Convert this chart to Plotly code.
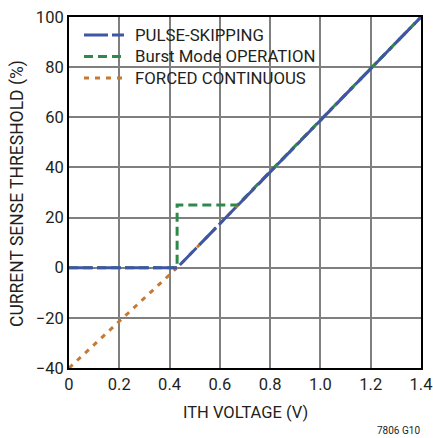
import plotly.graph_objects as go

# Data
pulse_x = [0, 0.43, 1.4]
pulse_y = [0, 0, 100]
burst_x = [0, 0.43, 0.43, 0.67, 1.4]
burst_y = [0, 0, 25, 25, 100]
forced_x = [0, 0.43, 1.4]
forced_y = [-40, 0, 100]
x_ticks = [0, 0.2, 0.4, 0.6, 0.8, 1.0, 1.2, 1.4]
x_tick_labels = ["0", "0.2", "0.4", "0.6", "0.8", "1.0", "1.2", "1.4"]
y_ticks = [-40, -20, 0, 20, 40, 60, 80, 100]
y_tick_labels = ["\u221240", "\u221220", "0", "20", "40", "60", "80", "100"]
series_names = ["PULSE-SKIPPING", "Burst Mode OPERATION", "FORCED CONTINUOUS"]

FONT = "Roboto, Liberation Sans, sans-serif"
TXT = "#231f20"
BLUE = "#3F56A6"
GREEN = "#2E8A4B"
ORANGE = "#C47A35"
DASH_BLUE = "24px,4px"
DASH_GREEN = "9px,5px"
DASH_ORANGE = "5px,6px"

W, H = 433, 438
ML, MR, MT, MB = 69, 12, 17, 70
PW, PH = W - ML - MR, H - MT - MB

def px_x(p):
    return (p - ML) / PW

def px_y(p):
    return (H - MB - p) / PH

fig = go.Figure()
fig.add_trace(go.Scatter(x=forced_x, y=forced_y, mode="lines", name=series_names[2],
                         line=dict(color=ORANGE, width=3, dash=DASH_ORANGE), showlegend=False))
fig.add_trace(go.Scatter(x=burst_x, y=burst_y, mode="lines", name=series_names[1],
                         line=dict(color=GREEN, width=3, dash=DASH_GREEN), showlegend=False))
fig.add_trace(go.Scatter(x=pulse_x, y=pulse_y, mode="lines", name=series_names[0],
                         line=dict(color=BLUE, width=3, dash=DASH_BLUE), showlegend=False))

# white box behind legend (covers gridlines)
fig.add_shape(type="rect", xref="paper", yref="paper", x0=0, x1=px_x(318), y0=px_y(92), y1=1,
              fillcolor="white", line=dict(width=0), layer="between")

# manual legend
leg_rows = [35, 56.5, 78]
leg_cols = [BLUE, GREEN, ORANGE]
leg_dash = [DASH_BLUE, DASH_GREEN, DASH_ORANGE]
for name, yy, c, d in zip(series_names, leg_rows, leg_cols, leg_dash):
    fig.add_shape(type="line", xref="paper", yref="paper", x0=px_x(84), x1=px_x(124),
                  y0=px_y(yy), y1=px_y(yy), line=dict(color=c, width=3, dash=d), layer="above")
    fig.add_annotation(text=name, xref="paper", yref="paper", x=px_x(133), y=px_y(yy),
                       xanchor="left", yanchor="middle", showarrow=False,
                       font=dict(family=FONT, size=16.8, color=TXT))

fig.update_layout(
    width=W, height=H,
    margin=dict(l=ML, r=MR, t=MT, b=MB, autoexpand=False),
    paper_bgcolor="white", plot_bgcolor="white",
    font=dict(family=FONT, size=16, color=TXT),
    showlegend=False,
    xaxis=dict(range=[0, 1.4], tickvals=x_ticks, ticktext=x_tick_labels,
               showgrid=True, gridcolor="#7f7f7f", gridwidth=1.5,
               showline=True, linecolor="black", linewidth=2, mirror=True,
               ticks="", zeroline=False, automargin=False, ticklabeloverflow="allow",
               tickfont=dict(family=FONT, size=16.5, color=TXT)),
    yaxis=dict(range=[-40, 100], tickvals=y_ticks, ticktext=y_tick_labels,
               showgrid=True, gridcolor="#7f7f7f", gridwidth=1.5,
               showline=True, linecolor="black", linewidth=2, mirror=True,
               ticks="", zeroline=False, automargin=False, ticklabeloverflow="allow",
               tickfont=dict(family=FONT, size=16.5, color=TXT)),
)

# axis titles
fig.add_annotation(text="ITH VOLTAGE (V)", xref="paper", yref="paper", x=0.5, y=px_y(412),
                   xanchor="center", yanchor="middle", showarrow=False,
                   font=dict(family=FONT, size=16.5, color=TXT))
fig.add_annotation(text="CURRENT SENSE THRESHOLD (%)", xref="paper", yref="paper",
                   x=px_x(17), y=px_y(194), xanchor="center", yanchor="middle", textangle=-90,
                   showarrow=False, font=dict(family=FONT, size=17.5, color=TXT))

fig.add_annotation(text="7806 G10", xref="paper", yref="paper", x=px_x(422), y=px_y(430),
                   xanchor="right", yanchor="middle", showarrow=False,
                   font=dict(family=FONT, size=10, color=TXT))

fig.write_html("out.html", config={"displayModeBar": False},
               post_script="document.body.style.margin='0';")
